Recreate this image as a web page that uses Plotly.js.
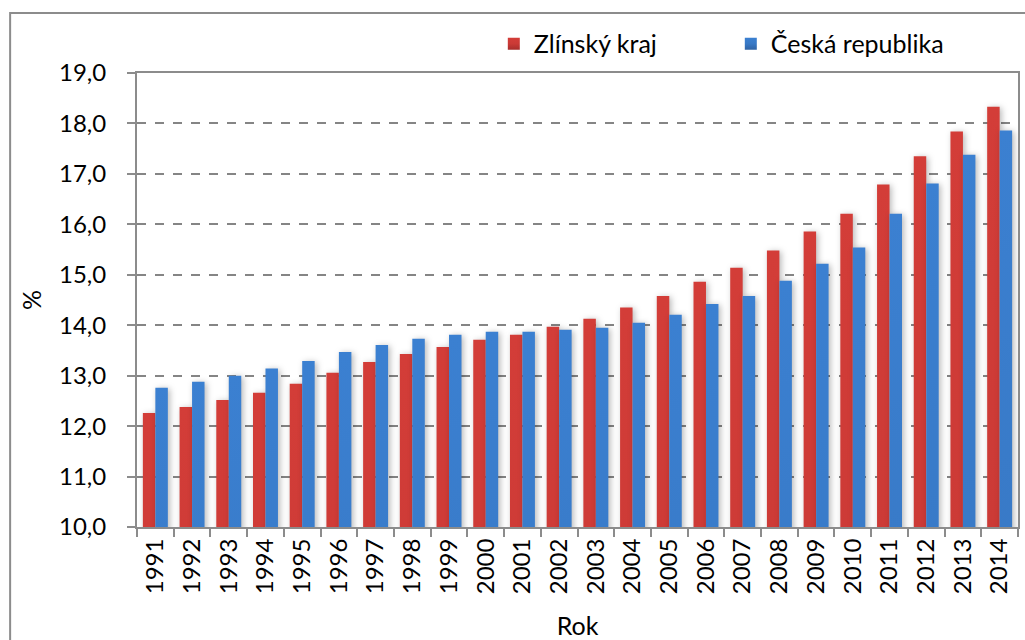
<!DOCTYPE html>
<html>
<head>
<meta charset="utf-8">
<script src="https://cdn.plot.ly/plotly-3.0.1.min.js"></script>
<style>
html,body{margin:0;padding:0;background:#fff;}
#chart{width:1025px;height:640px;}
</style>
</head>
<body>
<div id="chart"></div>
<svg width="0" height="0" style="position:absolute">
  <defs>
    <linearGradient id="gRed" x1="0" y1="0" x2="0" y2="1">
      <stop offset="0" stop-color="#D33D38"/>
      <stop offset="0.5" stop-color="#CB3A36"/>
      <stop offset="1" stop-color="#A72E2C"/>
    </linearGradient>
    <linearGradient id="gBlue" x1="0" y1="0" x2="0" y2="1">
      <stop offset="0" stop-color="#3B80D1"/>
      <stop offset="0.5" stop-color="#3879C6"/>
      <stop offset="1" stop-color="#2F63A5"/>
    </linearGradient>
  </defs>
</svg>
<script>
const years = ["1991","1992","1993","1994","1995","1996","1997","1998","1999","2000","2001","2002","2003","2004","2005","2006","2007","2008","2009","2010","2011","2012","2013","2014"];
const zlinsky = [12.26,12.38,12.52,12.66,12.84,13.06,13.27,13.43,13.57,13.71,13.81,13.97,14.13,14.35,14.58,14.86,15.14,15.48,15.86,16.21,16.79,17.35,17.84,18.33];
const ceska = [12.76,12.88,13.00,13.14,13.29,13.47,13.61,13.73,13.81,13.87,13.87,13.91,13.95,14.05,14.21,14.42,14.58,14.88,15.22,15.54,16.21,16.81,17.38,17.86];
const seriesNames = ["Zlínský kraj","Česká republika"];
const yTicks = [10,11,12,13,14,15,16,17,18,19];

const FONT = "Lato, 'Open Sans', sans-serif";
const traces = [
  {type:"bar", x:years, y:zlinsky, name:seriesNames[0], marker:{color:"#C93A36"}},
  {type:"bar", x:years, y:ceska, name:seriesNames[1], marker:{color:"#3878C5"}}
];
const layout = {
  width:1025, height:640,
  margin:{l:137, r:7, t:73, b:113},
  paper_bgcolor:"#fff", plot_bgcolor:"#fff",
  separators:", ",
  font:{family:FONT, size:24, color:"#000"},
  barmode:"group", bargap:0.32, bargroupgap:0,
  showlegend:true,
  legend:{orientation:"h", x:0.405, xanchor:"left", y:1.064, yanchor:"middle",
          font:{family:FONT, size:25, color:"#000"}, entrywidth:192, entrywidthmode:"pixels",
          itemwidth:30, traceorder:"normal", bgcolor:"rgba(0,0,0,0)"},
  xaxis:{type:"category", tickangle:-90, ticks:"outside", tickson:"boundaries", ticklen:8,
         tickcolor:"#8c8c8c", tickwidth:2, showline:true, linecolor:"#8c8c8c", linewidth:2, mirror:true,
         showgrid:false, tickfont:{family:FONT, size:24}, automargin:false,
         title:{text:"Rok", font:{family:FONT, size:25}, standoff:26}},
  yaxis:{range:[10,19], tickvals:yTicks, tickformat:".1f", ticks:"outside", ticklen:8,
         tickcolor:"#8c8c8c", tickwidth:2, showline:true, linecolor:"#8c8c8c", linewidth:2, mirror:true,
         showgrid:true, gridcolor:"#858585", gridwidth:2, griddash:"dash", zeroline:false,
         tickfont:{family:FONT, size:24}, ticklabelstandoff:16, automargin:false,
         title:{text:"%", font:{family:FONT, size:25}, standoff:10}},
  shapes:[
    {type:"path", xref:"paper", yref:"paper",
     path:"M -0.144 -0.3 L -0.144 1.132 L 1.02 1.132", line:{color:"#8c8c8c", width:2}}
  ]
};
Plotly.newPlot("chart", traces, layout, {displayModeBar:false, staticPlot:true}).then(function(gd){
  const grads = ["url(#gRed)","url(#gBlue)"];
  const groups = gd.querySelectorAll(".barlayer .trace.bars");
  groups.forEach(function(g, i){
    g.style.filter = "drop-shadow(2px 1px 3px rgba(0,0,0,0.28))";
    g.querySelectorAll(".point path").forEach(function(p){ p.style.fill = grads[i]; });
  });
  const leg = gd.querySelectorAll(".legend .traces .legendpoints path");
  leg.forEach(function(p, i){ p.style.fill = grads[i]; p.style.stroke = "none"; });
});
</script>
</body>
</html>
